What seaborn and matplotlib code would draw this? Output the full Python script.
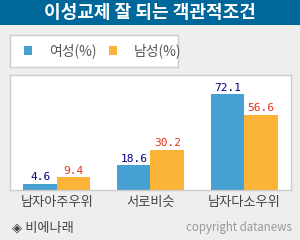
import pandas as pd
import matplotlib.pyplot as plt
import seaborn as sns
from matplotlib.patches import Rectangle

# 데이터
categories = ["남자아주우위", "서로비슷", "남자다소우위"]
female = [4.6, 18.6, 72.1]
male = [9.4, 30.2, 56.6]
series = ["여성(%)", "남성(%)"]

df = pd.DataFrame({
    "구분": categories * 2,
    "성별": [series[0]] * 3 + [series[1]] * 3,
    "값": female + male,
})

sns.set_style("white")
plt.rcParams["font.family"] = ["Noto Sans CJK KR", "DejaVu Sans"]

fig = plt.figure(figsize=(3, 2.4), dpi=100)
fig.patch.set_facecolor("#eeeeee")

# 제목 배너
fig.patches.append(Rectangle((0, 215 / 240), 1, 25 / 240, transform=fig.transFigure,
                             facecolor="#00679a", edgecolor="none", zorder=0))
fig.text(0.5, 1 - 12.5 / 240, "이성교제 잘 되는 객관적조건", color="white",
         fontsize=13, fontweight="bold", ha="center", va="center")

# 범례 상자
fig.patches.append(Rectangle((10 / 300, 1 - 67 / 240), 168 / 300, 32 / 240,
                             transform=fig.transFigure, facecolor="white",
                             edgecolor="#cccccc", linewidth=1, zorder=0))

colors = ["#47a0d2", "#fbb438"]
ax = fig.add_axes([10 / 300, 50 / 240, 281 / 300, 115 / 240])
sns.barplot(data=df, x="구분", y="값", hue="성별", palette=colors,
            width=0.716, saturation=1, linewidth=0, ax=ax)

ax.set_xlim(-0.5, 2.5)
ax.set_ylim(0, 86.4)
ax.set_xlabel("")
ax.set_ylabel("")
ax.set_yticks([])
ax.set_xticks([0, 1, 2])
ax.set_xticklabels(categories, color="#444444", fontsize=9.5)
ax.tick_params(axis="x", length=0, pad=4)
ax.set_xticks([0.5, 1.5], minor=True)
ax.tick_params(axis="x", which="minor", direction="in", length=4, color="#999999")
for s in ax.spines.values():
    s.set_color("#cccccc")
    s.set_linewidth(1)

label_colors = ["#000080", "#e8301a"]
for cont, c in zip(ax.containers, label_colors):
    ax.bar_label(cont, fmt="%.1f", color=c, fontsize=8, padding=1,
                 family=["DejaVu Sans Mono", "DejaVu Sans"])

leg = ax.get_legend()
handles = leg.legend_handles
leg.remove()
fig.legend(handles, series, loc="center left", bbox_to_anchor=(11.5 / 300, 1 - 51 / 240),
           ncol=2, frameon=False, handlelength=0.58, handleheight=0.58,
           handletextpad=1.2, columnspacing=0.9, fontsize=10,
           labelcolor="#555555")

fig.text(12 / 300, 1 - 228 / 240, "◈ 비에나래", color="#444444", fontsize=9.5,
         ha="left", va="center")
fig.text(292 / 300, 1 - 228 / 240, "copyright datanews", color="#999999",
         fontsize=8.3, ha="right", va="center")

fig.savefig("out.png", dpi=100, facecolor=fig.get_facecolor())
